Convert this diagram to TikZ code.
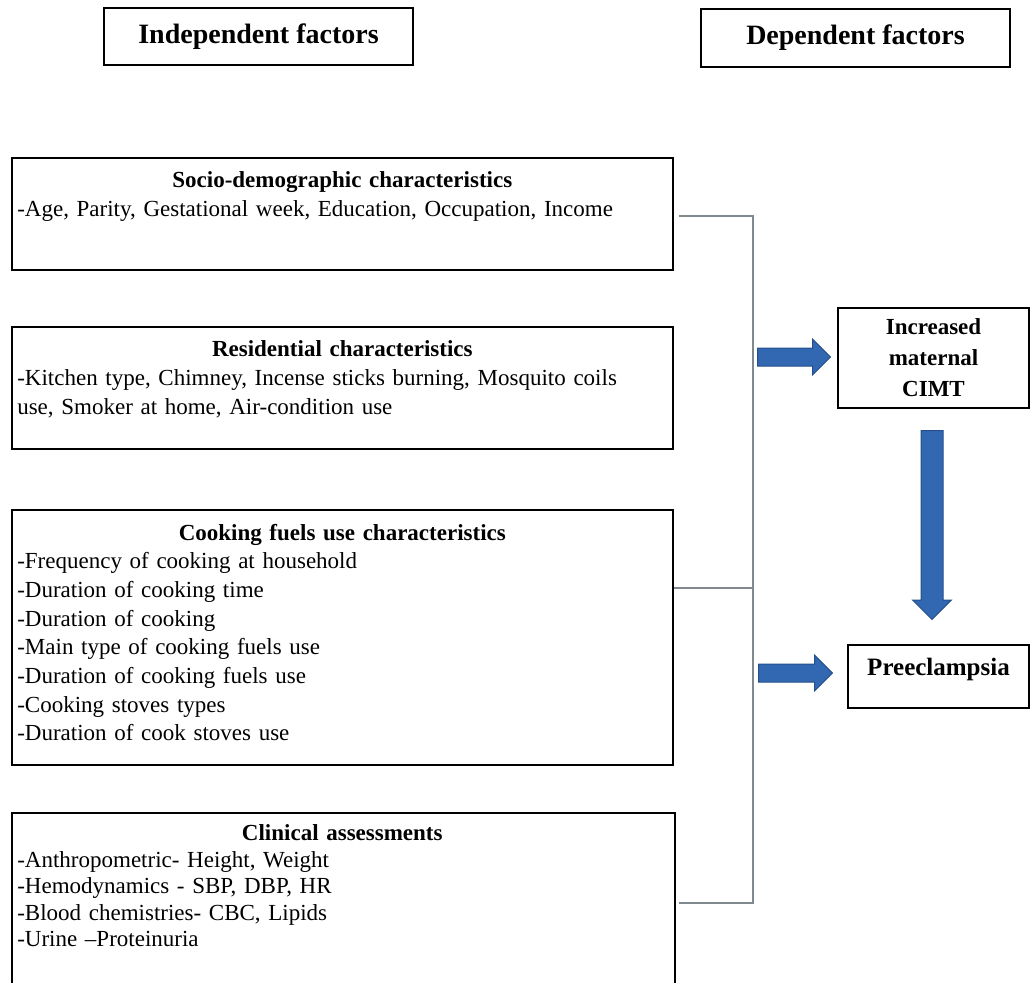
\documentclass[tikz,border=0pt]{standalone}
\usepackage{fontspec}
\setmainfont{Liberation Serif}
\usetikzlibrary{shapes.arrows}

\definecolor{arrowblue}{RGB}{50,104,178}
\definecolor{arrowedge}{RGB}{36,78,138}
\definecolor{spinegray}{RGB}{128,138,142}
\newcommand{\boxtitle}[1]{\makebox[\hsize][c]{\bfseries #1}}

\begin{document}
\begin{tikzpicture}[x=1pt, y=-1pt]
        \tikzstyle{factor}=[draw, line width=1.8pt, shape=rectangle, inner sep=0pt]
        \tikzstyle{factortext}=[anchor=north west, text width=650pt, align=left, inner xsep=6pt, inner ysep=14.5pt, font=\fontsize{23}{28.7}\selectfont]
        \tikzstyle{heading}=[draw, line width=1.8pt, inner sep=0pt, font=\fontsize{28}{32}\selectfont\bfseries]
        \tikzstyle{outcome}=[draw, line width=1.8pt, inner sep=0pt, align=center, font=\fontsize{23}{31}\selectfont\bfseries]
        \tikzstyle{link}=[draw=spinegray, line width=1.5pt]
        \tikzstyle{blockarrow}=[single arrow, anchor=tail, draw=arrowedge, fill=arrowblue, line width=1pt, inner sep=8.5pt, single arrow head extend=9pt]

        \useasboundingbox (0,0) rectangle (1030,982);

        % headings
        \node[heading, minimum width=309, minimum height=57] (indep) at (258.5,36.5) {Independent factors};
        \node[heading, minimum width=309, minimum height=58] (dep) at (855.5,38) {Dependent factors};

        % independent factors
        \node[factor, minimum width=661, minimum height=112] (socio) at (342.5,214) {};
        \node[factortext] (sociotext) at (socio.north west) {\boxtitle{Socio-demographic characteristics}\\
            -Age, Parity, Gestational week, Education, Occupation, Income};

        \node[factor, minimum width=661, minimum height=122] (resid) at (342.5,388) {};
        \node[factortext] (residtext) at (resid.north west) {\boxtitle{Residential characteristics}\\
            -Kitchen type, Chimney, Incense sticks burning, Mosquito coils\\
            use, Smoker at home, Air-condition use};

        \node[factor, minimum width=661, minimum height=255] (cooking) at (342.5,637.5) {};
        \node[factortext] (cookingtext) at (cooking.north west) {\boxtitle{Cooking fuels use characteristics}\\
            -Frequency of cooking at household\\
            -Duration of cooking time\\
            -Duration of cooking\\
            -Main type of cooking fuels use\\
            -Duration of cooking fuels use\\
            -Cooking stoves types\\
            -Duration of cook stoves use};

        \node[factor, minimum width=663, minimum height=177] (clinical) at (343.5,901.5) {};
        \node[factortext, inner ysep=12.5pt, font=\fontsize{23}{26.5}\selectfont] (clinicaltext) at (clinical.north west) {\boxtitle{Clinical assessments}\\
            -Anthropometric- Height, Weight\\
            -Hemodynamics - SBP, DBP, HR\\
            -Blood chemistries- CBC, Lipids\\
            -Urine –Proteinuria};

        % dependent factors
        \node[outcome, minimum width=191, minimum height=100] (cimt) at (933.5,358) {Increased\\maternal\\CIMT};
        \node[outcome, minimum width=181, text height=30.5pt, text depth=32.5pt, font=\fontsize{25}{30}\selectfont\bfseries] (preec) at (938.5,676.5) {Preeclampsia};

        % connectors
        \coordinate (spinetop) at (753,216);
        \coordinate (spinecook) at (753,588);
        \coordinate (spinebot) at (753,903);
        \draw[link] ([xshift=5pt]socio.east |- spinetop) -- (spinetop) -- (spinebot) -- ([xshift=3pt]clinical.east |- spinebot);
        \draw[link] (cooking.east |- spinecook) -- (spinecook);

        \node[blockarrow, minimum height=73] (tocimt) at (757,357) {};
        \node[blockarrow, minimum height=74] (topreec) at (758,673) {};
        \node[blockarrow, minimum height=189, inner sep=10.5pt, single arrow head extend=8.5pt, shape border rotate=270] (cimtdown) at (932,430) {};

        \end{tikzpicture}
\end{document}
